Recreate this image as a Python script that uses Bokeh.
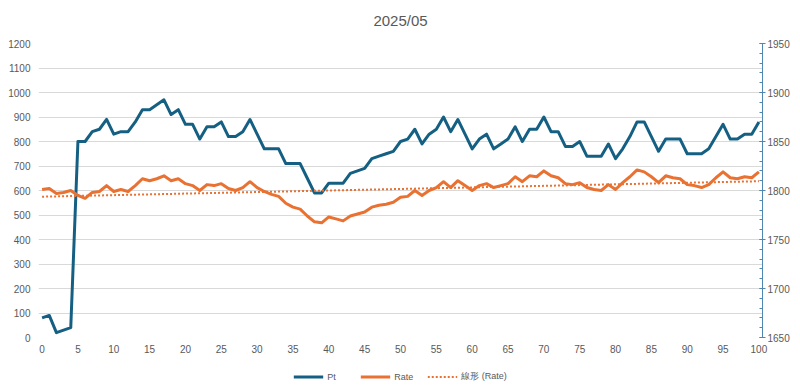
import numpy as np
from bokeh.plotting import figure
from bokeh.layouts import column
from bokeh.models import Range1d, LinearAxis, Legend, LegendItem, FixedTicker, Label
from bokeh.embed import file_html
from bokeh.resources import INLINE

# ---- data ----
x = list(range(101))
pt = [80, 90, 20, 30, 40, 800, 800, 840, 850, 890,
      830, 840, 840, 880, 930, 930, 950, 970, 910, 930,
      870, 870, 810, 860, 860, 880, 820, 820, 840, 890,
      830, 770, 770, 770, 710, 710, 710, 650, 590, 590,
      630, 630, 630, 670, 680, 690, 730, 740, 750, 760,
      800, 810, 850, 790, 830, 850, 900, 840, 890, 830,
      770, 810, 830, 770, 790, 810, 860, 800, 850, 850,
      900, 840, 840, 780, 780, 800, 740, 740, 740, 790,
      730, 770, 820, 880, 880, 820, 760, 810, 810, 810,
      750, 750, 750, 770, 820, 870, 810, 810, 830, 830,
      880]
rate = [1801, 1802, 1797, 1798, 1800, 1795, 1792, 1798, 1799, 1805,
        1799, 1801, 1799, 1805, 1812, 1810, 1812, 1815, 1810, 1812,
        1807, 1805, 1800, 1806, 1805, 1807, 1802, 1800, 1803, 1809,
        1803, 1799, 1796, 1794, 1787, 1783, 1781, 1774, 1768, 1767,
        1773, 1771, 1769, 1774, 1776, 1778, 1783, 1785, 1786, 1788,
        1793, 1794, 1800, 1795, 1800, 1803, 1809, 1803, 1810, 1805,
        1800, 1805, 1807, 1803, 1805, 1807, 1814, 1809, 1815, 1814,
        1820, 1815, 1813, 1807, 1806, 1808, 1803, 1801, 1800, 1806,
        1801, 1808, 1814, 1821, 1819, 1814, 1808, 1815, 1813, 1812,
        1806, 1805, 1803, 1806, 1813, 1819, 1813, 1812, 1814, 1813,
        1819]
left_ticks = [0, 100, 200, 300, 400, 500, 600, 700, 800, 900, 1000, 1100, 1200]
right_ticks = [1650, 1700, 1750, 1800, 1850, 1900, 1950]
right_minor = list(range(1650, 1951, 10))
x_ticks = list(range(0, 101, 5))
title_text = "2025/05"
series_names = ["Pt", "Rate", "線形 (Rate)"]

# linear trendline of Rate (as Excel's linear trendline)
slope, intercept = np.polyfit(x, rate, 1)
trend = [slope * xi + intercept for xi in x]

FONT = "Liberation Sans"
TXT = "#595959"
GRID = "#d9d9d9"
BLUE = "#156082"
ORANGE = "#E97132"
AXBLUE = "#4f87b0"
W = 800


def bare_fig(h):
    f = figure(width=W, height=h, output_backend="svg", toolbar_location=None,
               x_range=Range1d(0, 1), y_range=Range1d(0, 1),
               x_axis_location=None, y_axis_location=None,
               min_border=0, min_border_left=0, min_border_right=0,
               min_border_top=0, min_border_bottom=0)
    f.outline_line_color = None
    f.xgrid.grid_line_color = None
    f.ygrid.grid_line_color = None
    f.background_fill_color = "white"
    f.border_fill_color = "white"
    return f


# ---- title strip ----
tf = bare_fig(30)
tf.add_layout(Label(x=0.5, y=0.35, text=title_text, text_align="center",
                    text_baseline="middle", text_font=FONT, text_font_size="15px",
                    text_color=TXT))

# ---- main chart ----
p = figure(width=W, height=331, output_backend="svg", toolbar_location=None,
           x_range=Range1d(-0.5, 100.5), y_range=Range1d(0, 1200),
           min_border_left=38, min_border_right=38,
           min_border_top=13, min_border_bottom=24)
p.outline_line_color = None
p.background_fill_color = "white"
p.border_fill_color = "white"

p.extra_y_ranges = {"rate": Range1d(1650, 1950)}

yax = p.yaxis[0]
yax.ticker = FixedTicker(ticks=left_ticks)
yax.axis_line_color = None
yax.major_tick_line_color = None
yax.minor_tick_line_color = None
yax.major_tick_out = 0
yax.major_label_standoff = 8
yax.major_label_text_font = FONT
yax.major_label_text_font_size = "10px"
yax.major_label_text_color = TXT

xax = p.xaxis[0]
xax.ticker = FixedTicker(ticks=x_ticks)
xax.axis_line_color = None
xax.major_tick_line_color = None
xax.minor_tick_line_color = None
xax.major_tick_out = 0
xax.major_label_standoff = 7
xax.major_label_text_font = FONT
xax.major_label_text_font_size = "10px"
xax.major_label_text_color = TXT

p.xgrid.grid_line_color = None
p.ygrid.ticker = FixedTicker(ticks=left_ticks)
p.ygrid.grid_line_color = GRID
p.ygrid.grid_line_width = 1

rax = LinearAxis(y_range_name="rate",
                 ticker=FixedTicker(ticks=right_ticks, minor_ticks=right_minor))
rax.axis_line_color = AXBLUE
rax.axis_line_width = 1
rax.major_tick_line_color = AXBLUE
rax.minor_tick_line_color = AXBLUE
rax.major_tick_in = 3
rax.major_tick_out = 3
rax.minor_tick_in = 3
rax.minor_tick_out = 0
rax.major_label_standoff = 2
rax.major_label_text_font = FONT
rax.major_label_text_font_size = "10px"
rax.major_label_text_color = TXT
p.add_layout(rax, "right")

p.line(x, pt, line_color=BLUE, line_width=3, line_join="round")
p.line(x, rate, y_range_name="rate", line_color=ORANGE, line_width=3,
       line_join="round")
p.line(x, trend, y_range_name="rate", line_color=ORANGE, line_width=2,
       line_dash="2 2")

# ---- legend strip (key renderers lie outside the strip's visible range) ----
lf = bare_fig(30)
off = [5, 6]
k_pt = lf.line(off, off, line_color=BLUE, line_width=3)
k_rate = lf.line(off, off, line_color=ORANGE, line_width=3)
k_trend = lf.line(off, off, line_color=ORANGE, line_width=2, line_dash="2 2")
legend = Legend(items=[LegendItem(label=series_names[0], renderers=[k_pt]),
                       LegendItem(label=series_names[1], renderers=[k_rate]),
                       LegendItem(label=series_names[2], renderers=[k_trend])],
                orientation="horizontal", location="center",
                border_line_color=None, background_fill_alpha=0,
                label_text_font=FONT, label_text_font_size="9px",
                label_text_color=TXT, glyph_width=30, glyph_height=10,
                label_height=10, label_standoff=4, spacing=13,
                padding=0, margin=0)
lf.add_layout(legend, "center")

page = column(tf, p, lf, spacing=0)
open("out.html", "w").write(file_html(page, INLINE))
